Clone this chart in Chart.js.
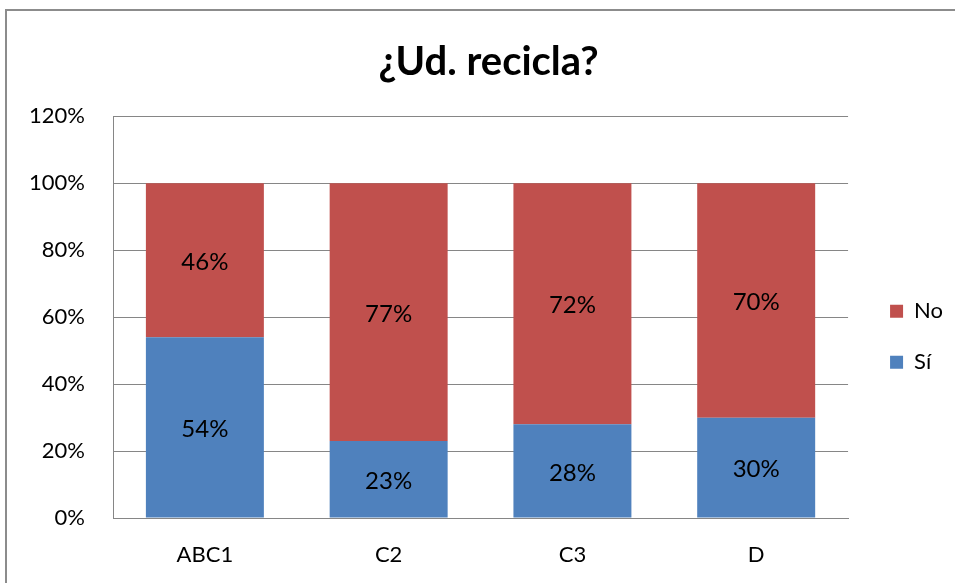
<!DOCTYPE html>
<html><head><meta charset="utf-8">
<script src="https://cdn.jsdelivr.net/npm/chart.js@4.4.0/dist/chart.umd.min.js"></script>
<style>
html,body{margin:0;padding:0;background:#fff;overflow:hidden;width:955px;height:583px;}
#wrap{position:absolute;left:5px;top:9px;width:962px;height:590px;border:2px solid #8c8c8c;background:#fff;}
canvas{display:block;}
</style></head><body>
<div id="wrap"><canvas id="c" width="962" height="590"></canvas></div>
<script>
const categories = ["ABC1", "C2", "C3", "D"];
const siValues = [0.54, 0.23, 0.28, 0.30];
const noValues = [0.46, 0.77, 0.72, 0.70];
const siLabels = ["54%", "23%", "28%", "30%"];
const noLabels = ["46%", "77%", "72%", "70%"];
const yTicks = [0, 0.2, 0.4, 0.6, 0.8, 1.0, 1.2];

const FONT = "Lato, 'Open Sans', sans-serif";

const valueLabels = {
  id: 'valueLabels',
  afterDatasetsDraw(chart) {
    const ctx = chart.ctx;
    ctx.save();
    ctx.font = "24px " + FONT;
    ctx.fillStyle = "#000";
    ctx.textAlign = "center";
    ctx.textBaseline = "middle";
    chart.data.datasets.forEach((ds, di) => {
      const meta = chart.getDatasetMeta(di);
      meta.data.forEach((bar, i) => {
        const p = bar.getProps(['x','y','base'], true);
        ctx.fillText(ds.labelsText[i], p.x, (p.y + p.base) / 2 + 2);
      });
    });
    ctx.restore();
  }
};

// nudge the legend and title blocks to sit where the reference places them
const blockNudge = {
  id: 'blockNudge',
  afterLayout(chart) {
    const lg = chart.legend;
    if (lg) {
      const dx = 13, dy = 35;
      lg.left += dx; lg.right += dx; lg.top += dy; lg.bottom += dy;
    }
    const tb = chart.titleBlock;
    if (tb) { tb.left += 10; tb.right += 10; }
  }
};

new Chart(document.getElementById('c'), {
  type: 'bar',
  data: {
    labels: categories,
    datasets: [
      { label: 'Sí', data: siValues, labelsText: siLabels, backgroundColor: '#4F81BD', borderWidth: 0 },
      { label: 'No', data: noValues, labelsText: noLabels, backgroundColor: '#C0504D', borderWidth: 0 }
    ]
  },
  options: {
    responsive: false,
    animation: false,
    devicePixelRatio: 1,
    layout: { padding: { left: 10, right: 29, top: 0, bottom: 8.5 } },
    datasets: { bar: { categoryPercentage: 1.0, barPercentage: 0.642 } },
    plugins: {
      title: {
        display: true, text: '¿Ud. recicla?', color: '#000',
        font: { family: FONT, size: 40, weight: 'bold' },
        padding: { top: 27.5, bottom: 29.7 }
      },
      legend: {
        position: 'right', reverse: true,
        labels: {
          boxWidth: 13, boxHeight: 13, padding: 29, color: '#000',
          font: { family: FONT, size: 22 }
        }
      },
      tooltip: { enabled: false }
    },
    scales: {
      x: {
        stacked: true,
        grid: { display: false, drawTicks: false },
        border: { display: true, color: '#868686', width: 1 },
        ticks: { color: '#000', font: { family: FONT, size: 22 }, padding: 24 }
      },
      y: {
        stacked: true, min: 0, max: 1.2,
        afterBuildTicks(axis) { axis.ticks = yTicks.map(v => ({ value: v })); },
        afterFit(axis) { axis.width = 96; },
        grid: { color: '#868686', lineWidth: 1, drawTicks: false },
        border: { display: true, color: '#868686', width: 1 },
        ticks: {
          color: '#000', font: { family: FONT, size: 22 }, padding: 28,
          callback: v => Math.round(v * 100) + '%'
        }
      }
    }
  },
  plugins: [valueLabels, blockNudge]
});
</script>
</body></html>
